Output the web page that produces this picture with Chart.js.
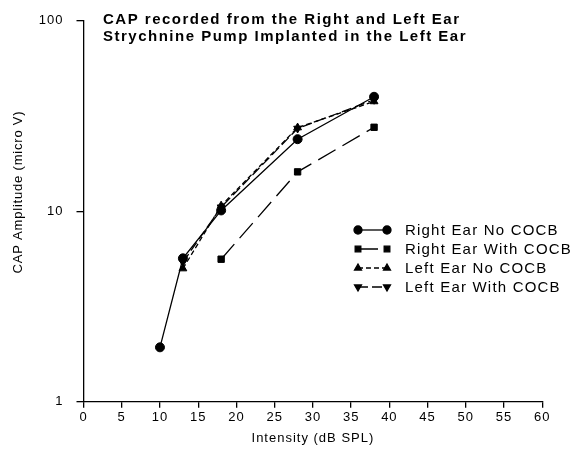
<!DOCTYPE html>
<html>
<head>
<meta charset="utf-8">
<script src="https://cdn.jsdelivr.net/npm/chart.js"></script>
<style>
    body { margin: 0; background: #fff; }
</style>
</head>
<body>
<canvas id="capChart" width="572" height="457"></canvas>
<script>
//////////////////////////////////////
//              Data                //
//////////////////////////////////////

var titleLines = ["CAP recorded from the Right and Left Ear", "Strychnine Pump Implanted in the Left Ear"];
var seriesNames = ["Right Ear No COCB", "Right Ear With COCB", "Left Ear No COCB", "Left Ear With COCB"];

// intensity in dB SPL
var rightNoCocbX = [10, 13, 18, 28, 38];
var rightWithCocbX = [18, 28, 38];
var leftNoCocbX = [13, 18, 28, 38];
var leftWithCocbX = [13, 18, 28, 38];

// CAP amplitude in micro V
var rightNoCocb = [1.93, 5.66, 10.1, 23.9, 39.9];
var rightWithCocb = [5.6, 16.1, 27.6];
var leftNoCocb = [5.0, 10.7, 27.5, 37.7];
var leftWithCocb = [5.4, 10.5, 27.2, 38.5];

var yTicks = [1, 10, 100];
var xMin = 0, xMax = 60, xStep = 5;

var fontFamily = '"Liberation Sans", Arial, Helvetica, sans-serif';

function toPoints(xs, ys) {
    return xs.map(function(x, i) { return { x: x, y: ys[i] }; });
}

//////////////////////////////////////
//        Title / legend text       //
//////////////////////////////////////

const figureText = {
    id: 'figureText',
    beforeDraw: function(chart) {
        // the original print has loose letter spacing on all text
        chart.ctx.letterSpacing = '1px';
    },
    afterDraw: function(chart) {
        var ctx = chart.ctx;
        ctx.save();
        ctx.fillStyle = '#000';
        ctx.strokeStyle = '#000';
        ctx.textBaseline = 'middle';
        ctx.textAlign = 'left';

        // title
        ctx.font = 'bold 15px ' + fontFamily;
        ctx.letterSpacing = '1.5px';
        ctx.fillText(titleLines[0], 103, 20);
        ctx.fillText(titleLines[1], 103, 37);

        // y axis title, sits a bit above the middle of the axis
        ctx.save();
        ctx.font = '13px ' + fontFamily;
        ctx.letterSpacing = '0.8px';
        ctx.translate(18, 192);
        ctx.rotate(-Math.PI / 2);
        ctx.textAlign = 'center';
        ctx.fillText('CAP Amplitude (micro V)', 0, 0);
        ctx.restore();

        // legend: marker - line - marker, then label
        ctx.font = '15px ' + fontFamily;
        ctx.letterSpacing = '1.2px';
        chart.data.datasets.forEach(function(ds, i) {
            var y = 230 + i * 19;
            ctx.lineWidth = ds.borderWidth;
            ctx.setLineDash(ds.borderDash || []);
            ctx.beginPath();
            ctx.moveTo(358, y);
            ctx.lineTo(387, y);
            ctx.stroke();
            ctx.setLineDash([]);
            var opts = { pointStyle: ds.pointStyle, rotation: ds.pointRotation || 0, radius: 4, borderWidth: 1 };
            Chart.helpers.drawPoint(ctx, opts, 358, y);
            Chart.helpers.drawPoint(ctx, opts, 387, y);
            ctx.fillText(ds.label, 405, y + 1);
        });
        ctx.restore();
    }
};

//////////////////////////////////////
//             Chart                //
//////////////////////////////////////

function makeSet(label, points, style, dash, rotation) {
    return {
        label: label,
        data: points,
        borderColor: '#000',
        backgroundColor: '#000',
        borderWidth: 1.3,
        borderDash: dash,
        pointStyle: style,
        pointRotation: rotation || 0,
        pointRadius: 4.5,
        pointBorderWidth: 1,
        tension: 0,
        fill: false
    };
}

var chartData = {
    datasets: [
        makeSet(seriesNames[0], toPoints(rightNoCocbX, rightNoCocb), 'circle', []),
        makeSet(seriesNames[1], toPoints(rightWithCocbX, rightWithCocb), 'rect', [20, 8]),
        makeSet(seriesNames[2], toPoints(leftNoCocbX, leftNoCocb), 'triangle', [5, 3]),
        makeSet(seriesNames[3], toPoints(leftWithCocbX, leftWithCocb), 'triangle', [10, 4], 180)
    ]
};

var ctx = document.getElementById('capChart').getContext('2d');
var chart = new Chart(ctx, {
    type: 'line',
    data: chartData,
    plugins: [figureText],
    options: {
        responsive: false,
        animation: false,
        layout: { padding: { top: 20.7, right: 29.7, left: 0, bottom: 0 } },
        plugins: {
            legend: { display: false },
            title: { display: false },
            tooltip: { enabled: false }
        },
        scales: {
            x: {
                type: 'linear',
                min: xMin,
                max: xMax,
                ticks: {
                    stepSize: xStep,
                    autoSkip: false,
                    maxRotation: 0,
                    color: '#000',
                    padding: 2,
                    font: { family: fontFamily, size: 13 }
                },
                grid: { drawOnChartArea: false, drawTicks: true, tickLength: 6, color: '#000', lineWidth: 1.3 },
                border: { color: '#000', width: 1.3 },
                title: {
                    display: true,
                    text: 'Intensity (dB SPL)',
                    color: '#000',
                    font: { family: fontFamily, size: 13 },
                    padding: { top: 0, bottom: 11 }
                },
                afterFit: function(scale) { scale.height = 55.3; }
            },
            y: {
                type: 'logarithmic',
                min: yTicks[0],
                max: yTicks[yTicks.length - 1],
                afterBuildTicks: function(scale) {
                    scale.ticks = yTicks.map(function(v) { return { value: v }; });
                },
                ticks: {
                    color: '#000',
                    padding: 13,
                    font: { family: fontFamily, size: 13 },
                    callback: function(value) { return String(value); }
                },
                grid: { drawOnChartArea: false, drawTicks: true, tickLength: 7, color: '#000', lineWidth: 1.3 },
                border: { color: '#000', width: 1.3 },
                afterFit: function(scale) { scale.width = 83.5; }
            }
        }
    }
});
</script>
</body>
</html>
